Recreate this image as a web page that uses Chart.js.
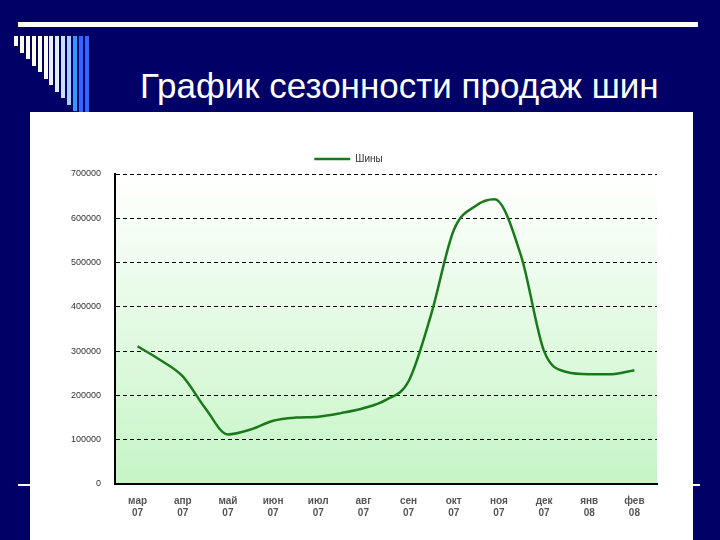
<!doctype html>
<html lang="ru">
<head>
<meta charset="utf-8">
<script src="https://cdn.jsdelivr.net/npm/chart.js"></script>
<style>
html, body { margin: 0; padding: 0; width: 720px; height: 540px; background: #000066; overflow: hidden; font-family: "Liberation Sans", Arial, sans-serif; }
#topline { position: absolute; left: 18px; top: 22px; width: 680px; height: 5px; background: #fff; }
#midline { position: absolute; left: 18px; top: 484px; width: 682px; height: 2px; background: #fff; }
.stripe { position: absolute; top: 36px; width: 4px; }
#title { position: absolute; left: 140px; top: 66px; color: #fff; font-size: 35px; }
#panel { position: absolute; left: 30px; top: 112px; width: 663px; height: 428px; background: #fff; }
</style>
</head>
<body>
<div id="topline"></div>
<div id="midline"></div>
<div id="stripes"></div>
<div id="title">График сезонности продаж шин</div>
<div id="panel"><canvas id="chart" width="663" height="428"></canvas></div>
<script>
// месяцы и год для подписей оси X
const months = ['мар', 'апр', 'май', 'июн', 'июл', 'авг', 'сен', 'окт', 'ноя', 'дек', 'янв', 'фев'];
const years = ['07', '07', '07', '07', '07', '07', '07', '07', '07', '07', '08', '08'];
// точки кривой (позиция в месяцах от марта, значение)
const pos = [0, 0.5, 1, 1.5, 2, 2.5, 3, 3.5, 4, 4.5, 5, 5.5, 6, 6.5, 7, 7.5, 7.9, 8.5, 9, 9.5, 10, 10.5, 11];
const sales = [311000, 280000, 243000, 171000, 112000, 123000, 143000, 150000, 152000, 160000, 171000, 190000, 232000, 383000, 573000, 629000, 643000, 512000, 300000, 253000, 248000, 248000, 257000];
const yTicks = [0, 100000, 200000, 300000, 400000, 500000, 600000, 700000];

// полоски слева вверху
const stripeCols = ['#ffffee', '#ffffee', '#ffffee', '#ffffee', '#ffffee', '#ffffee', '#eeeeff', '#ddeeff', '#ccddff', '#aaccff', '#3399ff', '#3366ff', '#3366ff'];
const stripesEl = document.getElementById('stripes');
stripeCols.forEach(function (c, i) {
    const d = document.createElement('div');
    d.className = 'stripe';
    d.style.left = (14 + i * 5.9) + 'px';
    d.style.height = (10 + i * 6.5) + 'px';
    d.style.background = c;
    stripesEl.appendChild(d);
});

const bgPlugin = {
    id: 'bg',
    beforeDraw(chart) {
        const a = chart.chartArea, ctx = chart.ctx;
        const g = ctx.createLinearGradient(0, a.top, 0, a.bottom);
        g.addColorStop(0, '#ffffff');
        g.addColorStop(1, '#c6f5c6');
        ctx.save();
        ctx.fillStyle = g;
        ctx.fillRect(a.left, a.top, a.right - a.left, a.bottom - a.top);
        ctx.restore();
    }
};

new Chart(document.getElementById('chart'), {
    type: 'line',
    data: {
        datasets: [{
            label: 'Шины',
            data: pos.map(function (p, i) { return { x: p, y: sales[i] }; }),
            borderColor: '#1a7a1a',
            borderWidth: 2.5,
            pointRadius: 0,
            cubicInterpolationMode: 'monotone',
            fill: false
        }]
    },
    options: {
        responsive: false,
        animation: false,
        layout: { padding: { left: 10, right: 36, top: 10, bottom: 18 } },
        plugins: {
            legend: {
                labels: { boxWidth: 36, boxHeight: 0, color: '#333', font: { size: 10 }, padding: 32 }
            },
            tooltip: { enabled: false }
        },
        scales: {
            x: {
                type: 'linear',
                min: -0.5,
                max: 11.5,
                afterBuildTicks(axis) { axis.ticks = months.map(function (m, i) { return { value: i }; }); },
                ticks: {
                    autoSkip: false,
                    maxRotation: 0,
                    color: '#555',
                    font: { size: 10, weight: 'bold' },
                    callback: function (v) { return [months[v], years[v]]; }
                },
                grid: { display: false },
                border: { color: '#000', width: 2 }
            },
            y: {
                min: 0,
                max: 700000,
                afterBuildTicks(axis) { axis.ticks = yTicks.map(function (v) { return { value: v }; }); },
                afterFit(axis) { axis.width = 75; },
                ticks: { color: '#333', font: { size: 9 }, padding: 14, callback: function (v) { return String(v); } },
                grid: { color: '#000', lineWidth: 1, drawTicks: false },
                border: { color: '#000', width: 2, dash: [4, 3] }
            }
        }
    },
    plugins: [bgPlugin]
});
</script>
</body>
</html>
